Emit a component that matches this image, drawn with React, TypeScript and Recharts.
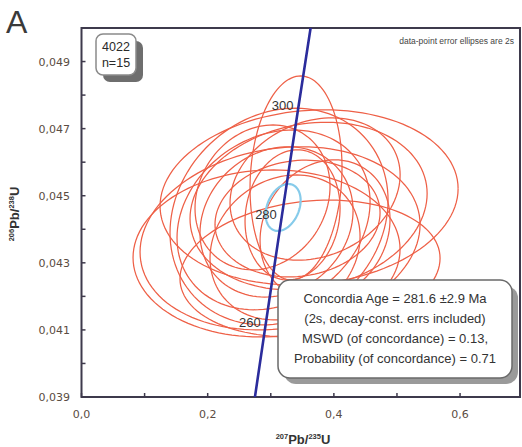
import React from 'react';
import { ComposedChart, XAxis, YAxis, Line, Scatter, ReferenceArea } from 'recharts';

// Axis ticks and labels
const xTicks = [0, 0.1, 0.2, 0.3, 0.4, 0.5, 0.6];
const xTickLabels = ['0,0', '', '0,2', '', '0,4', '', '0,6'];
const yTicks = [0.039, 0.04, 0.041, 0.042, 0.043, 0.044, 0.045, 0.046, 0.047, 0.048, 0.049];
const yTickLabels = ['0,039', '', '0,041', '', '0,043', '', '0,045', '', '0,047', '', '0,049'];

// Concordia curve (207Pb/235U, 206Pb/238U)
const concordiaX = [0.26664, 0.2749, 0.29183, 0.31752, 0.34375, 0.3631, 0.37046];
const concordiaY = [0.037932, 0.039, 0.041157, 0.044392, 0.047637, 0.05, 0.050893];

// Age marks on the concordia
const ageLabels = ['260', '280', '300'];
const ageX = [0.29183, 0.31752, 0.34375];
const ageY = [0.041157, 0.044392, 0.047637];

// Data-point error ellipses (2s): centre, half-widths and error correlation
const ellipseCx = [0.340, 0.3607, 0.3599, 0.2933, 0.3131, 0.3044, 0.3091, 0.3424, 0.3147, 0.3702, 0.3345, 0.3622, 0.3226, 0.386, 0.2869];
const ellipseCy = [0.04553, 0.04495, 0.04469, 0.04328, 0.04438, 0.04428, 0.04422, 0.04432, 0.04373, 0.0452, 0.04443, 0.04283, 0.04346, 0.04398, 0.04495];
const ellipseSx = [0.0729, 0.2362, 0.1879, 0.2116, 0.1728, 0.153, 0.1213, 0.1308, 0.2219, 0.1348, 0.0753, 0.2061, 0.1189, 0.103, 0.107];
const ellipseSy = [0.00304, 0.00261, 0.0025, 0.00249, 0.00323, 0.00268, 0.00224, 0.00174, 0.00273, 0.00212, 0.00194, 0.00204, 0.00216, 0.00209, 0.00216];
const ellipseRho = [0.1, 0.1, 0.15, 0.05, 0.15, 0.2, 0.15, 0.1, 0.15, 0.2, 0.1, 0.15, 0.15, 0.15, 0.15];

// Concordia age ellipse
const ageEllipse = { cx: 0.3196, cy: 0.04465, sx: 0.0277, sy: 0.0007, rho: 0.3 };

const X_MAX = 0.695;
const Y_MIN = 0.039;
const Y_MAX = 0.05;

function ellipsePoints(cx: number, cy: number, sx: number, sy: number, rho: number) {
  const pts: { x: number; y: number }[] = [];
  const k = Math.sqrt(1 - rho * rho);
  const n = 120;
  for (let i = 0; i <= n; i++) {
    const t = (i / n) * 2 * Math.PI;
    pts.push({ x: cx + sx * Math.cos(t), y: cy + sy * (rho * Math.cos(t) + k * Math.sin(t)) });
  }
  return pts;
}

const ellipses = ellipseCx.map((cx, i) => ellipsePoints(cx, ellipseCy[i], ellipseSx[i], ellipseSy[i], ellipseRho[i]));
const ageEllipsePts = ellipsePoints(ageEllipse.cx, ageEllipse.cy, ageEllipse.sx, ageEllipse.sy, ageEllipse.rho);
const concordiaData = concordiaX.map((x, i) => ({ x, y: concordiaY[i] }));
const ageData = ageX.map((x, i) => ({ x, y: ageY[i], label: ageLabels[i] }));

const AXIS = '#3e3a4c';
const TICKTXT = '#5a4c42';

const XTick = (props: any) => {
  const { x, y, index } = props;
  return (
    <g>
      <line x1={x} y1={y} x2={x} y2={y - 4} stroke={AXIS} strokeWidth={1.5} />
      <text x={x} y={y + 21} textAnchor="middle" fontSize={11} fontFamily="DejaVu Sans" fill={TICKTXT}>
        {xTickLabels[index]}
      </text>
    </g>
  );
};

const YTick = (props: any) => {
  const { x, y, index } = props;
  return (
    <g>
      <line x1={x} y1={y} x2={x + 4} y2={y} stroke={AXIS} strokeWidth={1.5} />
      <text x={x - 11.5} y={y + 4} textAnchor="end" fontSize={11} fontFamily="DejaVu Sans" fill={TICKTXT}>
        {yTickLabels[index]}
      </text>
    </g>
  );
};

const AgeLabel = (props: any) => {
  const { cx, cy, payload } = props;
  return (
    <text x={cx - 5} y={cy + 2.5} textAnchor="end" fontSize={13} fontFamily="Liberation Sans" fill="#333">
      {payload.label}
    </text>
  );
};

export default function App() {
  return (
    <div style={{ position: 'absolute', left: 0, top: 0, width: 522, height: 447, background: '#fff', fontFamily: 'Liberation Sans, Arial, sans-serif' }}>
      <ComposedChart width={522} height={447} margin={{ top: 28, right: 2, bottom: 0, left: 0 }}>
        <XAxis
          type="number"
          dataKey="x"
          domain={[0, X_MAX]}
          ticks={xTicks}
          allowDataOverflow
          height={50}
          tickSize={0}
          tickMargin={0}
          tickLine={false}
          axisLine={false}
          interval={0}
          tick={<XTick />}
        />
        <YAxis
          type="number"
          dataKey="y"
          domain={[Y_MIN, Y_MAX]}
          ticks={yTicks}
          allowDataOverflow
          width={81.5}
          tickSize={0}
          tickMargin={0}
          tickLine={false}
          axisLine={false}
          interval={0}
          tick={<YTick />}
        />
        {ellipses.map((pts, i) => (
          <Line
            key={'e' + i}
            data={pts}
            dataKey="y"
            type="linear"
            dot={false}
            activeDot={false}
            stroke="#ee6047"
            strokeWidth={1.25}
            isAnimationActive={false}
          />
        ))}
        <Line data={ageEllipsePts} dataKey="y" type="linear" dot={false} activeDot={false} stroke="#86cbea" strokeWidth={2.2} isAnimationActive={false} />
        <Line data={concordiaData} dataKey="y" type="linear" dot={false} activeDot={false} stroke="#2b2c9c" strokeWidth={2.6} isAnimationActive={false} />
        <Scatter data={ageData} dataKey="y" shape={<AgeLabel />} isAnimationActive={false} />
        <ReferenceArea x1={0} x2={X_MAX} y1={Y_MIN} y2={Y_MAX} fill="none" stroke={AXIS} strokeWidth={2} ifOverflow="visible" />
      </ComposedChart>
      <svg width={522} height={447} style={{ position: 'absolute', left: 0, top: 0, pointerEvents: 'none' }}>
        <text x={6} y={33} fontSize={32} fontFamily="Liberation Sans" fill="#3a3a3a">A</text>
        <rect x={103} y={41} width={40} height={41} rx={7} fill="#6e6e6e" />
        <rect x={96} y={34} width={40} height={41} rx={7} fill="#fff" stroke="#8a8a8a" strokeWidth={1.5} />
        <text x={116} y={51} textAnchor="middle" fontSize={12.5} fontFamily="Liberation Sans" fill="#2a2a2a">4022</text>
        <text x={116} y={67} textAnchor="middle" fontSize={12.5} fontFamily="Liberation Sans" fill="#2a2a2a">n=15</text>
        <text x={514} y={44} textAnchor="end" fontSize={8.5} fontFamily="Liberation Sans" fill="#444">data-point error ellipses are 2s</text>
        <rect x={284} y={286} width={234} height={98} rx={12} fill="#9a9a9a" />
        <rect x={278} y={280} width={234} height={98} rx={12} fill="#fff" stroke="#6a6a6a" strokeWidth={1.5} />
        <g fontSize={13} fontFamily="Liberation Sans" fill="#333" textAnchor="middle">
          <text x={395} y={303}>Concordia Age = 281.6 ±2.9 Ma</text>
          <text x={395} y={323}>(2s, decay-const. errs included)</text>
          <text x={395} y={343}>MSWD (of concordance) = 0.13,</text>
          <text x={395} y={363}>Probability (of concordance) = 0.71</text>
        </g>
        <text x={303} y={444} textAnchor="middle" fontFamily="Liberation Sans" fill="#333" fontWeight="bold">
          <tspan fontSize={7.5} dy={-5}>207</tspan>
          <tspan fontSize={13} dy={5}>Pb/</tspan>
          <tspan fontSize={7.5} dy={-5}>235</tspan>
          <tspan fontSize={13} dy={5}>U</tspan>
        </text>
        <text x={0} y={0} transform="translate(19 214) rotate(-90)" textAnchor="middle" fontFamily="Liberation Sans" fill="#333" fontWeight="bold">
          <tspan fontSize={7.5} dy={-5}>206</tspan>
          <tspan fontSize={13} dy={5}>Pb/</tspan>
          <tspan fontSize={7.5} dy={-5}>238</tspan>
          <tspan fontSize={13} dy={5}>U</tspan>
        </text>
      </svg>
    </div>
  );
}
